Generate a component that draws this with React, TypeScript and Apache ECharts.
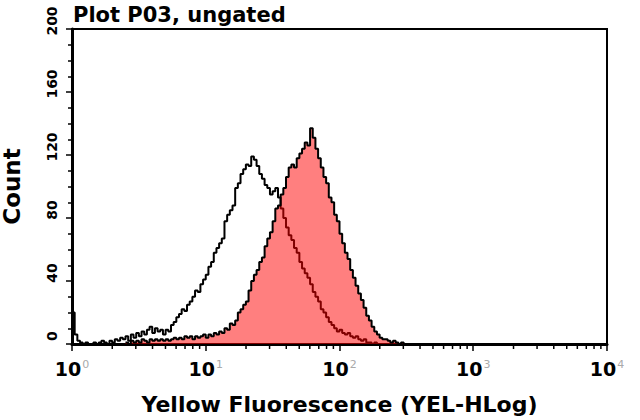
import React, { useEffect, useRef } from "react";
import * as echarts from "echarts";

// Histogram bin width, in decades of fluorescence
const BIN_WIDTH = 0.02;

// Unfilled (black) histogram, first bin at 10^0
const unstainedStart = 0.0;
const unstainedCounts = [
  20, 6, 2, 1, 0, 1, 0, 0, 1, 0, 1, 2, 1, 0, 2, 1, 3, 2, 4, 3,
  5, 2, 6, 4, 7, 5, 8, 6, 9, 11, 7, 10, 8, 9, 6, 9, 8, 12, 14, 17,
  19, 22, 21, 25, 27, 30, 34, 33, 38, 41, 44, 49, 52, 58, 61, 64, 67, 78, 82, 85,
  88, 99, 102, 108, 111, 114, 113, 119, 117, 113, 108, 105, 101, 99, 95, 97, 99, 93, 86, 80,
  74, 69, 66, 61, 58, 52, 48, 45, 42, 38, 33, 30, 27, 22, 20, 17, 14, 12, 10, 8,
  9, 7, 6, 7, 5, 4, 5, 3, 2, 3, 1, 1, 0, 1, 0,
];

// Filled (red) histogram, first bin at 10^0.4
const stainedStart = 0.4;
const stainedCounts = [
  1, 0, 2, 1, 2, 1, 3, 2, 1, 3, 2, 3, 2, 3, 2, 3, 2, 3, 4, 3,
  4, 3, 5, 4, 5, 3, 5, 4, 5, 6, 4, 6, 5, 7, 6, 8, 7, 10, 9, 13,
  12, 15, 20, 22, 25, 27, 34, 40, 44, 47, 52, 55, 62, 67, 71, 78, 86, 88, 95, 99,
  106, 112, 114, 112, 118, 121, 124, 128, 126, 137, 131, 124, 118, 112, 106, 102, 93, 90, 82, 78,
  70, 64, 58, 54, 47, 42, 37, 32, 28, 23, 18, 15, 11, 8, 6, 4, 3, 3, 2, 1,
  2, 1, 0, 1, 0,
];

// Axis ranges and ticks
const xMin = 1;
const xMax = 10000;
const yMin = 0;
const yMax = 200;
const yInterval = 40;
const minorTickValues = [
  2, 3, 4, 5, 6, 7, 8, 9,
  20, 30, 40, 50, 60, 70, 80, 90,
  200, 300, 400, 500, 600, 700, 800, 900,
  2000, 3000, 4000, 5000, 6000, 7000, 8000, 9000,
];

const FONT = "DejaVu Sans";

function toPoints(start: number, counts: number[]) {
  return counts.map((c, i) => [Math.pow(10, start + i * BIN_WIDTH), c]);
}

export default function App() {
  const ref = useRef<HTMLDivElement>(null);

  useEffect(() => {
    if (!ref.current) return;
    const chart = echarts.init(ref.current, undefined, { renderer: "svg" });
    chart.setOption({
      animation: false,
      backgroundColor: "#fff",
      title: {
        text: "Plot P03, ungated",
        left: 73,
        top: 4,
        padding: 0,
        textStyle: { fontFamily: FONT, fontSize: 21, fontWeight: "bold", color: "#000" },
      },
      grid: {
        left: 72,
        right: 33,
        top: 29,
        bottom: 76,
        show: true,
        borderColor: "#000",
        borderWidth: 2,
        backgroundColor: "transparent",
        outerBoundsMode: "none",
        containLabel: false,
      },
      xAxis: {
        type: "log",
        logBase: 10,
        min: xMin,
        max: xMax,
        name: "Yellow Fluorescence (YEL-HLog)",
        nameLocation: "middle",
        nameGap: 49,
        nameTextStyle: { fontFamily: FONT, fontSize: 22, fontWeight: "bold", color: "#000" },
        axisLine: { show: true, lineStyle: { color: "#000", width: 3 } },
        axisTick: { show: true, length: 7, lineStyle: { color: "#000", width: 1.5 } },
        minorTick: { show: false },
        splitLine: { show: false },
        axisLabel: {
          margin: 15,
          formatter: (v: number) => `{b|10}{s|${Math.round(Math.log10(v))}}`,
          rich: {
            b: { fontFamily: FONT, fontSize: 19, fontWeight: "bold", color: "#000" },
            s: { fontFamily: FONT, fontSize: 11, color: "#aaa", verticalAlign: "top", padding: [0, 0, 0, 1] },
          },
        },
      },
      yAxis: {
        type: "value",
        min: yMin,
        max: yMax,
        interval: yInterval,
        name: "Count",
        nameLocation: "middle",
        nameGap: 49,
        nameTextStyle: { fontFamily: FONT, fontSize: 23, fontWeight: "bold", color: "#000" },
        axisLine: { show: true, lineStyle: { color: "#000", width: 3 } },
        axisTick: { show: true, length: 6, lineStyle: { color: "#000", width: 1.5 } },
        minorTick: { show: true, splitNumber: 4, length: 4, lineStyle: { color: "#000", width: 1.5 } },
        splitLine: { show: false },
        axisLabel: {
          rotate: 90,
          margin: 13,
          padding: [0, 0, 0, 16],
          fontFamily: FONT,
          fontSize: 14,
          fontWeight: "bold",
          color: "#000",
        },
      },
      series: [
        {
          type: "line",
          name: "unstained",
          step: "end",
          symbol: "none",
          data: toPoints(unstainedStart, unstainedCounts),
          lineStyle: { color: "#000", width: 2 },
          z: 2,
        },
        {
          type: "line",
          name: "stained",
          step: "end",
          symbol: "none",
          data: toPoints(stainedStart, stainedCounts),
          lineStyle: { color: "#000", width: 2 },
          areaStyle: { color: "rgba(255,0,0,0.5)", origin: "start", opacity: 1 },
          z: 3,
        },
        {
          type: "custom",
          name: "minor ticks",
          data: minorTickValues.map((v) => [v, yMin]),
          clip: false,
          silent: true,
          z: 4,
          renderItem: (_p: any, api: any) => {
            const pt = api.coord([api.value(0), yMin]);
            return {
              type: "line",
              shape: { x1: pt[0], y1: pt[1] + 1, x2: pt[0], y2: pt[1] + 5 },
              style: { stroke: "#000", lineWidth: 1.5 },
            };
          },
        },
      ],
    });
    return () => chart.dispose();
  }, []);

  return (
    <div
      ref={ref}
      style={{ position: "fixed", left: 0, top: 0, width: 640, height: 420 }}
    />
  );
}
